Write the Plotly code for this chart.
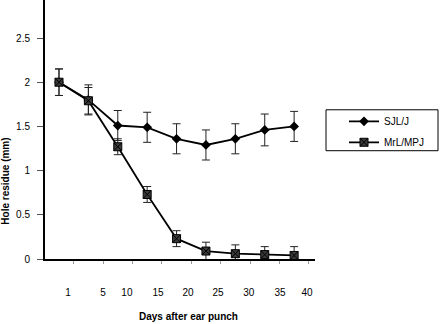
import plotly.graph_objects as go

# time-point index (categorical positions on the x axis)
timepoints = [0, 1, 2, 3, 4, 5, 6, 7, 8]
sjl_values = [2.00, 1.80, 1.51, 1.49, 1.36, 1.29, 1.36, 1.46, 1.50]
sjl_errors = [0.15, 0.17, 0.17, 0.17, 0.17, 0.17, 0.17, 0.18, 0.17]
mrl_values = [2.00, 1.79, 1.27, 0.73, 0.23, 0.09, 0.06, 0.05, 0.04]
mrl_errors = [0.15, 0.15, 0.09, 0.09, 0.09, 0.10, 0.10, 0.09, 0.10]
tick_labels = ["1", "5", "10", "15", "20", "25", "30", "35", "40"]
y_ticks = [0, 0.5, 1, 1.5, 2, 2.5]
y_tick_labels = ["0", "0.5", "1", "1.5", "2", "2.5"]

# layout-only positions of the typed tick labels along the category axis
tick_label_pos = [0.31, 1.50, 2.31, 3.37, 4.39, 5.41, 6.46, 7.52, 8.44]
between_ticks = [t + 0.5 for t in timepoints]

FONT = "Liberation Sans, Arial, sans-serif"
PL, PR, PT, PB = 45, 315, 0, 259.5   # plot area in pixels
PW, PH = PR - PL, PB - PT


def px(x):
    return (x - PL) / PW


def py(y):
    return 1 - (y - PT) / PH


fig = go.Figure()
fig.add_trace(go.Scatter(
    x=timepoints, y=sjl_values, name="SJL/J", mode="lines+markers",
    legendgroup="a",
    line=dict(color="black", width=1.8),
    marker=dict(symbol="diamond", size=7.5, color="black"),
    error_y=dict(type="data", array=sjl_errors, color="#222", thickness=1, width=4),
))
fig.add_trace(go.Scatter(
    x=timepoints, y=mrl_values, name="MrL/MPJ", mode="lines+markers",
    legendgroup="b",
    line=dict(color="black", width=1.8),
    marker=dict(symbol="square-x", size=8, color="#3a3a3a",
                line=dict(color="black", width=1)),
    error_y=dict(type="data", array=mrl_errors, color="#222", thickness=1, width=4),
))

fig.update_layout(
    width=440, height=324,
    margin=dict(l=PL, r=440 - PR, t=PT, b=324 - PB, autoexpand=False),
    paper_bgcolor="white", plot_bgcolor="white",
    font=dict(family=FONT, size=10, color="black"),
    showlegend=True,
    legend=dict(x=px(344), y=py(107), xanchor="left", yanchor="top",
                borderwidth=0, bgcolor="rgba(0,0,0,0)",
                font=dict(size=10, color="black"), itemwidth=30, tracegroupgap=2,
                traceorder="grouped"),
    xaxis=dict(range=[-0.476, 8.71], showline=True, linecolor="black", linewidth=2,
               showgrid=False, zeroline=False, automargin=False,
               tickmode="array", tickvals=tick_label_pos, ticktext=tick_labels,
               ticks="", ticklabelstandoff=23, tickfont=dict(size=10),
               minor=dict(tickmode="array", tickvals=between_ticks, ticks="outside",
                          ticklen=3, tickcolor="#999", showgrid=False)),
    yaxis=dict(range=[0, 2.93], showline=True, linecolor="black", linewidth=2,
               showgrid=False, zeroline=False, automargin=False,
               tickmode="array", tickvals=y_ticks, ticktext=y_tick_labels,
               ticks="outside", ticklen=6, tickcolor="#555", tickwidth=1,
               ticklabelstandoff=5, tickfont=dict(size=10)),
    shapes=[
        dict(type="rect", xref="paper", yref="paper",
             x0=px(326), x1=px(438), y0=py(151), y1=py(110),
             line=dict(color="black", width=1), fillcolor="rgba(0,0,0,0)"),
    ],
    annotations=[
        dict(text="<b>Days after ear punch</b>", xref="paper", yref="paper",
             x=px(188), y=py(317), xanchor="center",
             yanchor="middle", showarrow=False, font=dict(size=10)),
        dict(text="<b>Hole residue (mm)</b>", xref="paper", yref="paper",
             x=px(6), y=py(182), xanchor="center",
             yanchor="middle", textangle=-90, showarrow=False, font=dict(size=10)),
    ],
)

fig.write_html("out.html", config={"staticPlot": True, "displayModeBar": False},
               post_script="document.body.style.margin='0';")
